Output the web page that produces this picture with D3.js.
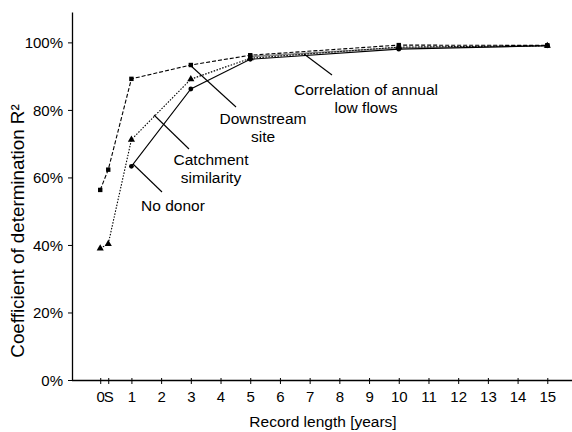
<!DOCTYPE html>
<html><head><meta charset="utf-8">
<script src="https://cdn.jsdelivr.net/npm/d3@7"></script>
<style>body{margin:0;background:#fff}svg{display:block}text{font-family:"Liberation Sans",Arial,sans-serif;fill:#000}</style>
</head><body><svg id="c" width="572" height="432"></svg>
<script>
// x positions: "0" and "S" are special record-length categories placed before year 1
const tickValues = [-0.05, 0.22, 1,2,3,4,5,6,7,8,9,10,11,12,13,14,15];
const tickLabels = ["0","S","1","2","3","4","5","6","7","8","9","10","11","12","13","14","15"];
const yTicks = [0,0.2,0.4,0.6,0.8,1.0];

const downstreamX = [-0.05, 0.22, 1, 3, 5, 10, 15];
const downstreamY = [0.563, 0.623, 0.892, 0.933, 0.962, 0.992, 0.991];
const catchmentX = [-0.05, 0.22, 1, 3, 5, 10, 15];
const catchmentY = [0.390, 0.403, 0.712, 0.891, 0.953, 0.986, 0.990];
const nodonorX = [1, 3, 5, 10, 15];
const nodonorY = [0.633, 0.862, 0.950, 0.980, 0.990];
const correlX = [5, 10, 15];
const correlY = [0.958, 0.984, 0.990];

const svg = d3.select("#c");
const x = d3.scaleLinear().domain([-1, 16]).range([72, 577]);
const y = d3.scaleLinear().domain([0, 1.09]).range([380, 12]);

// axes
const xAxis = svg.append("g").attr("transform","translate(0,380)")
  .call(d3.axisBottom(x).tickValues(tickValues).tickFormat((d,i)=>tickLabels[i]).tickSize(4).tickSizeOuter(0));
xAxis.select(".domain").attr("d","M72,0.5H572").attr("stroke","#000").attr("stroke-width",1.3);
xAxis.selectAll("text").attr("font-size",15).attr("y",11).attr("dy","0.71em").style("font-family",'"Liberation Sans",Arial,sans-serif');
xAxis.selectAll("line").attr("y1",-2);
const yAxis = svg.append("g").attr("transform","translate(72,0)")
  .call(d3.axisLeft(y).tickValues(yTicks).tickFormat(d3.format(".0%")).tickSize(4).tickSizeOuter(0));
yAxis.select(".domain").attr("stroke","#000").attr("stroke-width",1.3);
yAxis.selectAll("text").attr("font-size",15).attr("dy","0.34em").attr("x",-9).style("font-family",'"Liberation Sans",Arial,sans-serif');

svg.append("text").attr("x",323).attr("y",427).attr("text-anchor","middle").attr("font-size",15.5).text("Record length [years]");
svg.append("text").attr("transform","translate(24,231) rotate(-90)").attr("text-anchor","middle").attr("font-size",18.8).text("Coefficient of determination R²");

const line = d3.line().x(d=>x(d[0])).y(d=>y(d[1]));
const zip = (a,b)=>a.map((v,i)=>[v,b[i]]);

// correlation (grey)
svg.append("path").attr("d",line(zip(correlX,correlY))).attr("fill","none").attr("stroke","#888").attr("stroke-width",1.6);
// no donor solid
svg.append("path").attr("d",line(zip(nodonorX,nodonorY))).attr("fill","none").attr("stroke","#000").attr("stroke-width",1.1);
// catchment dotted
svg.append("path").attr("d",line(zip(catchmentX,catchmentY))).attr("fill","none").attr("stroke","#000").attr("stroke-width",1.1).attr("stroke-dasharray","1.5,1.5");
// downstream dashed
svg.append("path").attr("d",line(zip(downstreamX,downstreamY))).attr("fill","none").attr("stroke","#000").attr("stroke-width",1.1).attr("stroke-dasharray","4,2");

// markers
svg.selectAll(".sq").data(zip(downstreamX,downstreamY)).join("rect")
  .attr("x",d=>x(d[0])-2.2).attr("y",d=>y(d[1])-2.2).attr("width",4.4).attr("height",4.4).attr("fill","#000");
svg.selectAll(".sq2").data(zip(correlX,correlY)).join("rect")
  .attr("x",d=>x(d[0])-2.2).attr("y",d=>y(d[1])-2.2).attr("width",4.4).attr("height",4.4).attr("fill","#000");
const tri = d3.symbol().type(d3.symbolTriangle).size(22);
svg.selectAll(".tr").data(zip(catchmentX,catchmentY)).join("path")
  .attr("d",tri).attr("transform",d=>`translate(${x(d[0])},${y(d[1])})`).attr("fill","#000");
svg.selectAll(".ci").data(zip(nodonorX,nodonorY)).join("circle")
  .attr("cx",d=>x(d[0])).attr("cy",d=>y(d[1])).attr("r",2.4).attr("fill","#000");

// annotations
const leaders = [
  [[190,65],[236,107]],
  [[154,115],[189,149]],
  [[133,164],[162,192]],
  [[304,54],[332,75]]
];
leaders.forEach(l=>svg.append("line").attr("x1",l[0][0]).attr("y1",l[0][1]).attr("x2",l[1][0]).attr("y2",l[1][1]).attr("stroke","#000").attr("stroke-width",1.1));
const labels = [
  {t:["Downstream","site"], x:263, y:124},
  {t:["Catchment","similarity"], x:211, y:165},
  {t:["No donor"], x:173, y:211},
  {t:["Correlation of annual","low flows"], x:366, y:95}
];
labels.forEach(l=>{
  const tx = svg.append("text").attr("x",l.x).attr("y",l.y).attr("text-anchor","middle").attr("font-size",15.5);
  l.t.forEach((s,i)=>tx.append("tspan").attr("x",l.x).attr("dy",i?18:0).text(s));
});
</script></body></html>
